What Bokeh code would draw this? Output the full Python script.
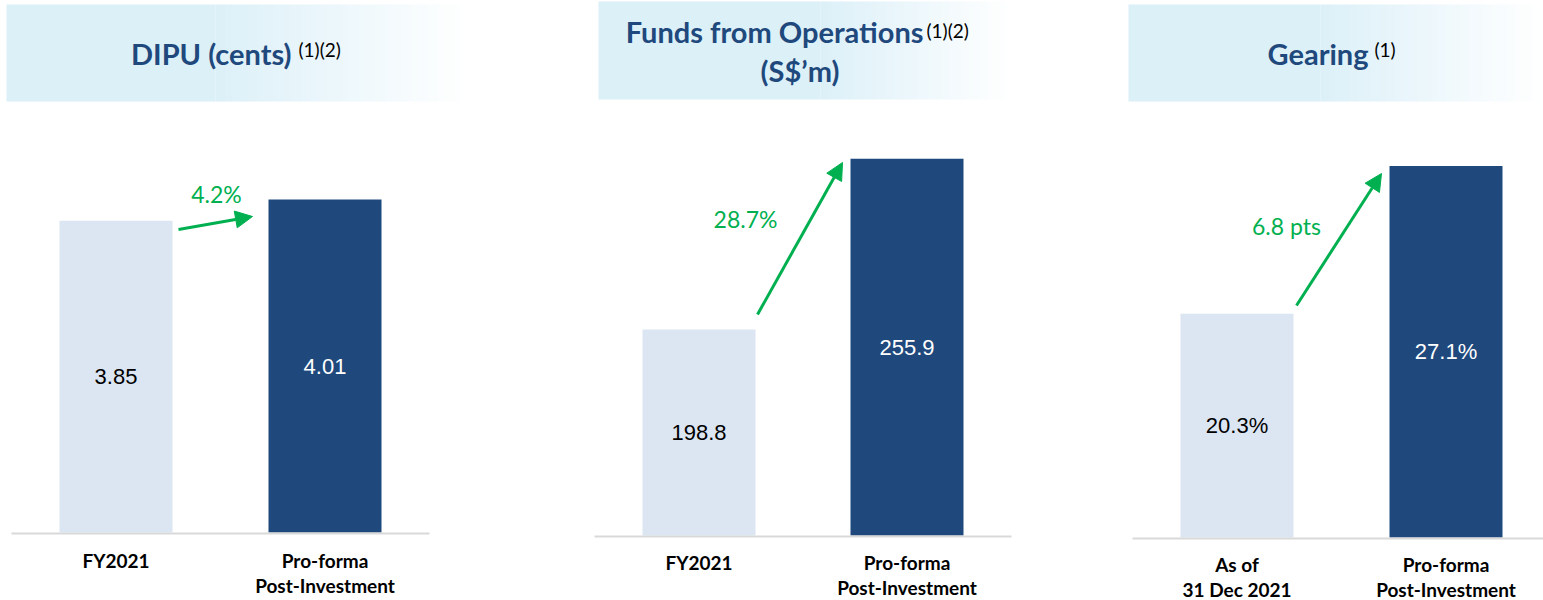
from bokeh.plotting import figure
from bokeh.models import Range1d, Arrow, NormalHead
from bokeh.core.properties import value
from bokeh.embed import file_html
from bokeh.resources import INLINE

# ---------------- data ----------------
titles = ["DIPU (cents)", "Funds from Operations\n(S$\u2019m)", "Gearing"]
title_notes = ["(1)(2)", "(1)(2)", "(1)"]
dipu_categories = ["FY2021", "Pro-forma\nPost-Investment"]
ffo_categories = ["FY2021", "Pro-forma\nPost-Investment"]
gearing_categories = ["As of\n31 Dec 2021", "Pro-forma\nPost-Investment"]
dipu_values = [3.85, 4.01]
ffo_values = [198.8, 255.9]
gearing_values = [20.3, 27.1]
dipu_labels = ["3.85", "4.01"]
ffo_labels = ["198.8", "255.9"]
gearing_labels = ["20.3%", "27.1%"]
change_labels = ["4.2%", "28.7%", "6.8 pts"]
axis_min = [1.5, 130, 10]
axis_max = [4.5, 270, 28]

# ---------------- layout / style ----------------
W, H = 1543, 600
X0, Y0 = 0, 0                     # page offset of the figure
bar_centers = [(115.5, 324.5), (698.5, 906.5), (1236.5, 1445.5)]
bar_width_px = 113
baseline_y = [532, 535, 537]
axis_top_y = [134, 116, 146]
baseline_x = [(11, 429), (594, 1011), (1132, 1543)]
cat_line_y = [(560, 585), (562, 587), (564, 589)]
boxes = [(6, 215, 470, 4, 101), (598, 820, 1012, 1, 99), (1128, 1320, 1543, 4, 101)]
arrows = [(178, 229, 252, 216), (757, 314, 842, 162), (1296, 305, 1381, 173)]
change_pos = [(216, 193), (745, 218), (1286, 225)]

LIGHT = "#DCE6F2"
DARK = "#1F497D"
TITLE_COL = "#1F497D"
BOX_COL = (220, 240, 248)
GREEN = "#00B050"
BASE_COL = "#D9D9D9"

panels = [
    (dipu_categories, dipu_values, dipu_labels),
    (ffo_categories, ffo_values, ffo_labels),
    (gearing_categories, gearing_values, gearing_labels),
]

p = figure(width=W, height=H, x_range=Range1d(X0, X0 + W), y_range=Range1d(Y0 + H, Y0),
           output_backend="svg", toolbar_location=None, min_border=0,
           x_axis_location=None, y_axis_location=None,
           outline_line_color=None, background_fill_color="white", border_fill_color="white")
p.grid.grid_line_color = None

# title boxes with fading gradient
for (bx0, bxs, bx1, by0, by1) in boxes:
    p.quad(left=[bx0], right=[bxs], top=[by0], bottom=[by1], fill_color="#%02X%02X%02X" % BOX_COL,
           line_color=None)
    n = 48
    step = (bx1 - bxs) / n
    lefts, rights, cols = [], [], []
    for k in range(n):
        t = (k + 0.5) / n
        c = tuple(int(round(BOX_COL[j] + (255 - BOX_COL[j]) * t)) for j in range(3))
        lefts.append(bxs + k * step)
        rights.append(bxs + (k + 1) * step + 0.6)
        cols.append("#%02X%02X%02X" % c)
    p.quad(left=lefts, right=rights, top=[by0] * n, bottom=[by1] * n, fill_color=cols, line_color=None)

# titles
title_font = value("Lato")
TSIZE = "29px"
NSIZE = "19px"


def ttext(x, y, s, align, bold=True, size=TSIZE, color=TITLE_COL):
    p.text(x=[x], y=[y], text=[s], text_align=align, text_baseline="middle",
           text_font=title_font, text_font_style="bold" if bold else "normal",
           text_font_size=size, text_color=color)


# panel 1
ttext(291, 53, titles[0], "right")
ttext(298, 48.5, title_notes[0], "left", bold=False, size=NSIZE, color="black")
# panel 2
t2 = titles[1].split("\n")
ttext(923, 31, t2[0], "right")
ttext(926, 30, title_notes[1], "left", bold=False, size=NSIZE, color="black")
ttext(799.5, 70, t2[1], "center")
# panel 3
ttext(1368, 53, titles[2], "right")
ttext(1374, 48.5, title_notes[2], "left", bold=False, size=NSIZE, color="black")

# per-panel scales
for i, (cats, vals, labs) in enumerate(panels):
    c0, c1 = bar_centers[i]
    d = c1 - c0
    xr = Range1d((X0 - c0) / d, (X0 + W - c0) / d)
    yb = baseline_y[i]
    s = (yb - axis_top_y[i]) / (axis_max[i] - axis_min[i])
    yr = Range1d(axis_min[i] - (Y0 + H - yb) / s, axis_min[i] + (yb - Y0) / s)
    p.extra_x_ranges["x%d" % i] = xr
    p.extra_y_ranges["y%d" % i] = yr
    xs = list(range(len(vals)))
    p.vbar(x=xs, width=bar_width_px / d, bottom=axis_min[i], top=vals,
           fill_color=[LIGHT, DARK], line_color=None,
           x_range_name="x%d" % i, y_range_name="y%d" % i)
    p.text(x=xs, y=[(axis_min[i] + v) / 2 for v in vals], text=labs,
           text_color=["black", "white"], text_align="center", text_baseline="middle",
           text_font=value("Liberation Sans"), text_font_size="22px",
           x_range_name="x%d" % i, y_range_name="y%d" % i)
    # baseline
    bx0, bx1 = baseline_x[i]
    p.line(x=[bx0, bx1], y=[yb + 1, yb + 1], line_color=BASE_COL, line_width=2)
    # category labels
    lx, ly, lt = [], [], []
    for k, cat in enumerate(cats):
        for j, line in enumerate(cat.split("\n")):
            lx.append(k)
            ly.append(cat_line_y[i][j])
            lt.append(line)
    p.text(x=lx, y=ly, text=lt, text_align="center", text_baseline="middle",
           text_font=value("Lato"), text_font_style="bold", text_font_size="19px",
           text_color="black", x_range_name="x%d" % i)
    # change arrow and label
    ax0, ay0, ax1, ay1 = arrows[i]
    p.add_layout(Arrow(end=NormalHead(size=17, fill_color=GREEN, line_color=GREEN, line_width=1),
                       x_start=ax0, y_start=ay0, x_end=ax1, y_end=ay1,
                       line_color=GREEN, line_width=3))
    cx, cy = change_pos[i]
    p.text(x=[cx], y=[cy], text=[change_labels[i]], text_align="center", text_baseline="middle",
           text_font=value("Lato"), text_font_size="23px", text_color=GREEN)

open("out.html", "w").write(file_html(p, INLINE))
